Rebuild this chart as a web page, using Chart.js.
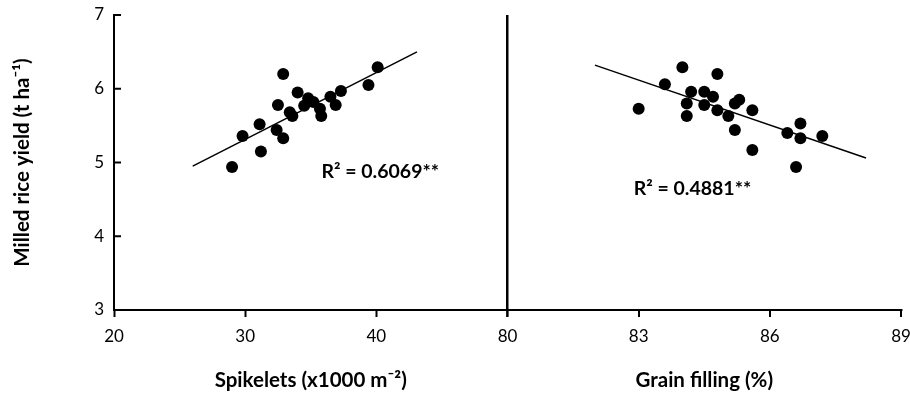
<!DOCTYPE html>
<html><head><meta charset="utf-8">
<script src="https://cdn.jsdelivr.net/npm/chart.js@4/dist/chart.umd.min.js"></script>
<style>html,body{margin:0;padding:0;background:#fff}canvas{display:block}</style>
</head><body>
<canvas id="c" width="910" height="395"></canvas>
<script>
// ---- data ----
const spikelets = [29.0, 29.8, 31.2, 31.1, 32.9, 32.5, 32.4, 32.9, 33.4, 33.6, 34.0, 34.5, 34.8, 35.2, 35.7, 35.8, 36.5, 36.9, 37.3, 39.4, 40.1];
const yieldSpikelets = [4.94, 5.36, 5.15, 5.52, 6.20, 5.78, 5.44, 5.33, 5.68, 5.63, 5.95, 5.77, 5.87, 5.82, 5.73, 5.63, 5.89, 5.78, 5.97, 6.05, 6.29];
const grainFilling = [83.0, 83.6, 84.0, 84.1, 84.1, 84.2, 84.5, 84.5, 84.7, 84.8, 84.8, 85.05, 85.2, 85.2, 85.3, 85.6, 85.6, 86.4, 86.6, 86.7, 86.7, 87.2];
const yieldGrain = [5.73, 6.06, 6.29, 5.80, 5.63, 5.96, 5.96, 5.78, 5.89, 5.71, 6.20, 5.63, 5.44, 5.80, 5.85, 5.71, 5.17, 5.40, 4.94, 5.33, 5.53, 5.36];
const trendSpikeletsX = [26.0, 43.1];
const trendSpikeletsY = [4.95, 6.50];
const trendGrainX = [82.0, 88.2];
const trendGrainY = [6.32, 5.06];
const yTicks = [3, 4, 5, 6, 7];
const spikeletTicks = [20, 30, 40];
const grainTicks = [80, 83, 86, 89];
const r2Labels = ['R\u00b2 = 0.6069**', 'R\u00b2 = 0.4881**'];
const r2X = [40.3, 84.23];
const r2Y = [4.87, 4.65];
const titleX1 = 'Spikelets (x1000 m\u207b\u00b2)';
const titleX2 = 'Grain filling (%)';
const titleY = 'Milled rice yield (t ha\u207b\u00b9)';

const FONT = 'Lato, "Open Sans", sans-serif';
const pts = (xs, ys) => xs.map((x, i) => ({x: x, y: ys[i]}));

const extras = {
  id: 'extras',
  afterDatasetsDraw(chart) {
    const {ctx, chartArea, scales} = chart;
    ctx.save();
    ctx.strokeStyle = '#000';
    ctx.lineWidth = 2;
    yTicks.forEach(v => {
      const py = scales.y.getPixelForValue(v);
      ctx.beginPath();
      ctx.moveTo(chartArea.left, py);
      ctx.lineTo(chartArea.left + 7, py);
      ctx.stroke();
    });
    ctx.fillStyle = '#000';
    ctx.font = 'bold 19.5px ' + FONT;
    ctx.textAlign = 'center';
    ctx.textBaseline = 'middle';
    ctx.fillText(r2Labels[0], scales.x1.getPixelForValue(r2X[0]), scales.y.getPixelForValue(r2Y[0]));
    ctx.fillText(r2Labels[1], scales.x2.getPixelForValue(r2X[1]), scales.y.getPixelForValue(r2Y[1]));
    ctx.restore();
  }
};

const noPad = s => { s.paddingLeft = 0; s.paddingRight = 0; s.height = 85; };

new Chart(document.getElementById('c'), {
  type: 'scatter',
  data: {
    datasets: [
      {type: 'line', data: pts(trendSpikeletsX, trendSpikeletsY), xAxisID: 'x1', yAxisID: 'y',
       borderColor: '#000', borderWidth: 1.5, pointRadius: 0, fill: false},
      {type: 'line', data: pts(trendGrainX, trendGrainY), xAxisID: 'x2', yAxisID: 'y',
       borderColor: '#000', borderWidth: 1.5, pointRadius: 0, fill: false},
      {data: pts(spikelets, yieldSpikelets), xAxisID: 'x1', yAxisID: 'y',
       backgroundColor: '#000', borderWidth: 0, pointRadius: 6},
      {data: pts(grainFilling, yieldGrain), xAxisID: 'x2', yAxisID: 'y',
       backgroundColor: '#000', borderWidth: 0, pointRadius: 6}
    ]
  },
  options: {
    responsive: false,
    animation: false,
    layout: {padding: {top: 15, right: 9, bottom: 0, left: 0}},
    plugins: {legend: {display: false}, tooltip: {enabled: false}},
    scales: {
      y: {
        type: 'linear', position: 'left', min: 3, max: 7,
        afterBuildTicks: s => { s.ticks = yTicks.map(v => ({value: v})); },
        afterFit: s => { s.width = 114; s.paddingTop = 0; s.paddingBottom = 0; },
        border: {display: true, color: '#000', width: 2},
        grid: {drawOnChartArea: false, drawTicks: false},
        ticks: {color: '#000', padding: 10, font: {family: FONT, size: 17}},
        title: {display: true, text: titleY, color: '#000', padding: {top: 10, bottom: 0},
                font: {family: FONT, size: 20.5, weight: 'bold'}}
      },
      x1: {
        type: 'linear', position: 'bottom', stack: 'bottom', stackWeight: 1,
        min: 20, max: 50,
        afterBuildTicks: s => { s.ticks = [20, 30, 40, 50].map(v => ({value: v})); },
        afterFit: noPad,
        border: {display: true, color: '#000', width: 2},
        grid: {drawOnChartArea: false, drawTicks: true, tickLength: 7, tickColor: '#000', tickWidth: 2},
        ticks: {color: '#000', padding: 9, maxRotation: 0, autoSkip: false, font: {family: FONT, size: 17},
                callback: v => spikeletTicks.includes(v) ? String(v) : ''},
        title: {display: true, text: titleX1, color: '#000', padding: {top: 0, bottom: 2},
                font: {family: FONT, size: 20.5, weight: 'bold'}}
      },
      x2: {
        type: 'linear', position: 'bottom', stack: 'bottom', stackWeight: 1,
        min: 80, max: 89,
        afterBuildTicks: s => { s.ticks = grainTicks.map(v => ({value: v})); },
        afterFit: noPad,
        border: {display: true, color: '#000', width: 2},
        grid: {drawOnChartArea: true, drawTicks: true, tickLength: 7, tickColor: '#000', tickWidth: 2,
               color: c => (c.tick && c.tick.value === 80) ? '#000' : 'rgba(0,0,0,0)',
               lineWidth: c => (c.tick && c.tick.value === 80) ? 2.5 : 0},
        ticks: {color: '#000', padding: 9, maxRotation: 0, autoSkip: false, font: {family: FONT, size: 17},
                callback: v => String(v)},
        title: {display: true, text: titleX2, color: '#000', padding: {top: 0, bottom: 2},
                font: {family: FONT, size: 20.5, weight: 'bold'}}
      }
    }
  },
  plugins: [extras]
});
</script>
</body></html>
